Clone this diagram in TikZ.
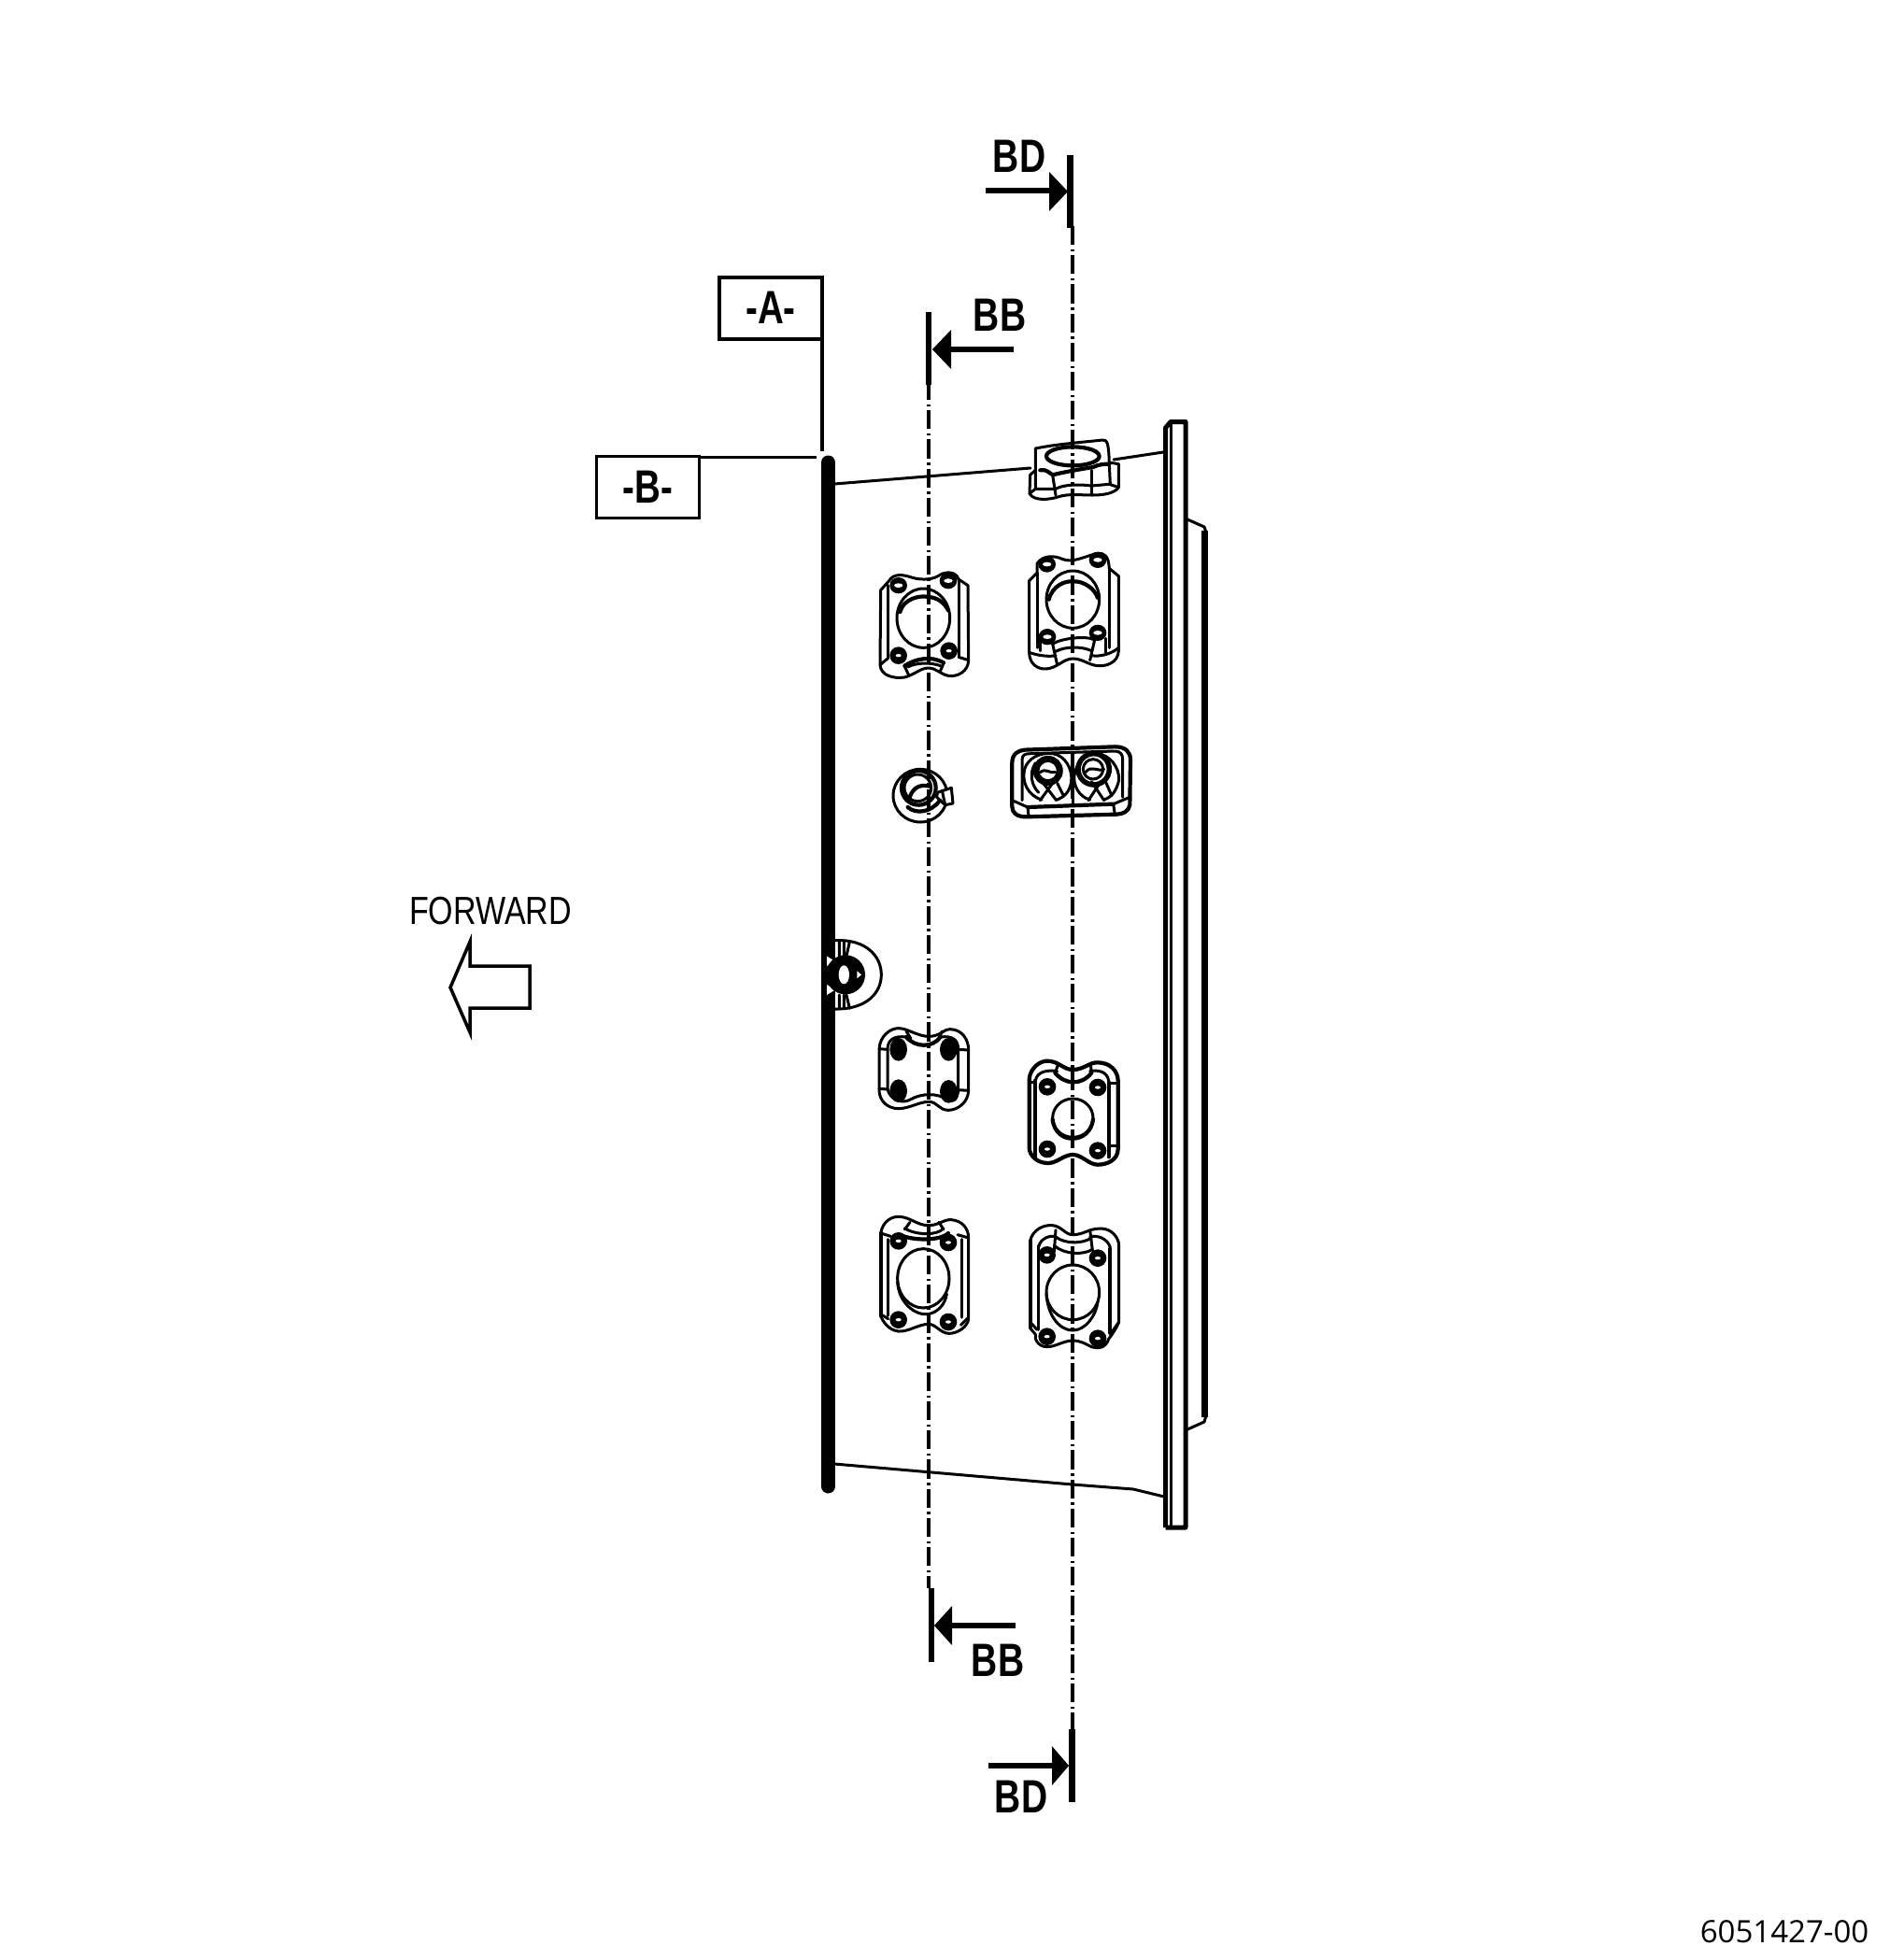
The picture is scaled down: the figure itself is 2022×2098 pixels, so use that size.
\documentclass[tikz,border=0pt]{standalone}
\usepackage{fontspec}
\setmainfont{Liberation Sans}
\newfontfamily\numfont{Open Sans}
\newcommand\boltf[2]{\fill (#1,#2) circle[radius=28]; \fill[white] (#1,#2) ellipse[x radius=9,y radius=5];}
\newcommand\boltr[2]{\fill (#1,#2) ellipse[x radius=28,y radius=26]; \fill[white] (#1,#2) ellipse[x radius=14,y radius=7];}
\newcommand\bolts[2]{\fill (#1,#2) ellipse[x radius=28,y radius=37];}
\tikzset{
  ln/.style={line width=3pt,line join=round,line cap=round},
  thk/.style={line width=4.2pt,line join=round,line cap=round},
  datum/.style={draw,line width=3.5pt,inner sep=0pt,outer sep=0pt,font=\fontsize{50}{50}\bfseries},
  seclab/.style={font=\fontsize{50}{50}\bfseries,inner sep=0pt},
  cl/.style={line width=3.2pt,dash pattern=on 20.2pt off 4.5pt on 2.5pt off 4pt},
  tickln/.style={line width=6.8pt},
  shaftln/.style={line width=6.5pt},
  zo/.style={shift={(900,440)},scale=0.33333,ln},
  zc/.style={shift={(860,980)},scale=0.33333,ln},
  zd/.style={shift={(930,1300)},scale=0.33333,ln}
}
\begin{document}
\begin{tikzpicture}[x=1pt,y=-1pt]
\useasboundingbox (0,0) rectangle (2022,2098);
\fill[white] (0,0) rectangle (2022,2098);

% centre lines
\coordinate (cl1t) at (994,408); \coordinate (cl1b) at (994,1700);
\coordinate (cl2t) at (1148,242); \coordinate (cl2b) at (1148,1851);
\draw[cl] (cl1t) -- (cl1b);
\draw[cl] (cl2t) -- (cl2b);

% section marks
\coordinate (t1a) at (1145.5,166); \coordinate (t1b) at (1145.5,244);
\draw[tickln] (t1a) -- (t1b);
\coordinate (s1a) at (1055,204); \coordinate (s1b) at (1125,204);
\draw[shaftln] (s1a) -- (s1b);
\fill (1143,205) -- (1123,184) -- (1123,226) -- cycle;
\node[seclab] (bdtop) at (1091,167) {\scalebox{.78}[1]{BD}};

\coordinate (t2a) at (994,334); \coordinate (t2b) at (994,412);
\draw[tickln] (t2a) -- (t2b);
\coordinate (s2a) at (1085,374); \coordinate (s2b) at (1016,374);
\draw[shaftln] (s2a) -- (s2b);
\fill (998,374) -- (1018,353) -- (1018,395) -- cycle;
\node[seclab] (bbtop) at (1070,337) {\scalebox{.78}[1]{BB}};

\coordinate (t3a) at (997,1700); \coordinate (t3b) at (997,1779);
\draw[tickln] (t3a) -- (t3b);
\coordinate (s3a) at (1087,1740); \coordinate (s3b) at (1017,1740);
\draw[shaftln] (s3a) -- (s3b);
\fill (1000,1740) -- (1019,1719) -- (1019,1761) -- cycle;
\node[seclab] (bbbot) at (1068,1777) {\scalebox{.78}[1]{BB}};

\coordinate (t4a) at (1147.5,1851); \coordinate (t4b) at (1147.5,1929);
\draw[tickln] (t4a) -- (t4b);
\coordinate (s4a) at (1058,1890); \coordinate (s4b) at (1128,1890);
\draw[shaftln] (s4a) -- (s4b);
\fill (1144,1890) -- (1126,1869) -- (1126,1911) -- cycle;
\node[seclab] (bdbot) at (1093,1923) {\scalebox{.78}[1]{BD}};

% datum boxes
\node[datum,minimum width=110pt,minimum height=66pt] (A) at (825,330) {\raisebox{2pt}{\scalebox{.77}[1]{-A-}}};
\node[datum,minimum width=110pt,minimum height=66pt] (B) at (693.5,521.5) {\raisebox{1pt}{\scalebox{.77}[1]{-B-}}};
\coordinate (Aend) at (880,483); \coordinate (Bend) at (874,489.5);
\coordinate (Astart) at (880,363); \coordinate (Bstart) at (748.5,489.5);
\draw[line width=3.4pt] (Astart) -- (Aend);
\draw[line width=3.4pt] (Bstart) -- (Bend);

% shell
\draw[line width=15pt,line cap=round] (886.5,495) -- (886.5,1591);
\draw[ln] (893,518) -- (1103,501);
\draw[ln] (1192,492) -- (1245,484);
\draw[ln] (893,1567) -- (1148,1589) -- (1213,1594) -- (1246,1602);

% flange
\draw[line width=5pt,line join=round] (1247.5,1635) -- (1247.5,458) -- (1253,451.5) -- (1269,451.5) -- (1269,1635) -- (1247.5,1635);
\draw[line width=3.5pt] (1253.5,452) -- (1253.5,1635);
\draw[ln] (1271,556) -- (1289,564) -- (1291,570);
\draw[ln] (1271,1530) -- (1289,1522) -- (1291,1515);
\draw[line width=7pt] (1289.5,568) -- (1289.5,1517);

% top nut
\begin{scope}[zo]
\draw (625,190) -- (625,120) .. controls (700,105) and (780,100) .. (840,93) .. controls (855,92) and (860,100) .. (862,170);
\draw[thk] (745,145) ellipse[x radius=85,y radius=30];
\draw (625,190) -- (608,205) -- (606,265) .. controls (620,290) and (670,285) .. (700,275) .. controls (730,265) and (770,270) .. (810,270) .. controls (850,270) and (880,262) .. (892,245) -- (892,170) -- (862,165);
\draw (625,190) -- (625,250) -- (606,265);
\draw (625,250) -- (690,250) .. controls (715,235) and (770,235) .. (805,240) -- (862,235) -- (892,245);
\draw (862,170) -- (865,235);
\draw[thk] (640,190) .. controls (660,185) and (670,200) .. (680,205) .. controls (720,195) and (780,185) .. (810,180) .. controls (830,170) and (850,170) .. (862,170);
\draw (680,205) -- (690,270);
\draw (805,190) -- (805,270);
\end{scope}

% fitting A
\begin{scope}[zo]
\draw (128,575) -- (155,545) .. controls (170,520) and (200,525) .. (230,535) .. controls (265,545) and (300,540) .. (320,525) .. controls (340,515) and (370,515) .. (378,540) -- (408,560) -- (410,800) .. controls (410,835) and (375,855) .. (345,850) .. controls (320,845) and (305,825) .. (283,825) .. controls (255,825) and (240,845) .. (205,855) .. controls (170,860) and (128,850) .. (126,815) -- cycle;
\draw (150,560) -- (150,795);
\draw (378,540) -- (378,790);
\draw (126,815) -- (150,795) (378,790) -- (410,800);
\boltr{185}{560}\boltr{345}{545}\boltf{185}{785}\boltf{347}{770}
\draw (265,665) ellipse[x radius=85,y radius=95];
\draw[thk] (190,645) .. controls (200,605) and (250,590) .. (283,597) .. controls (315,600) and (335,620) .. (345,640);
\draw[thk] (205,818) .. controls (240,795) and (290,785) .. (330,808);
\draw (205,820) -- (218,848) (330,810) -- (318,838);
\draw (215,822) .. controls (240,808) and (290,805) .. (325,820);
\end{scope}

% fitting B
\begin{scope}[zo]
\draw (605,545) -- (630,520) -- (630,490) .. controls (650,460) and (690,465) .. (710,475) .. controls (745,490) and (785,465) .. (825,457) .. controls (845,455) and (860,465) .. (862,505) -- (892,530) -- (892,770) .. controls (890,810) and (850,820) .. (825,818) .. controls (795,815) and (775,795) .. (745,795) .. controls (715,795) and (695,825) .. (660,828) .. controls (630,830) and (605,810) .. (605,775) -- cycle;
\draw (630,520) -- (630,760) (862,505) -- (862,760);
\boltr{662}{492}\boltr{825}{478}\boltr{663}{725}\boltr{825}{712}
\draw (745,605) ellipse[x radius=85,y radius=92];
\draw[thk] (668,605) .. controls (680,560) and (720,545) .. (745,547) .. controls (780,545) and (815,570) .. (825,600);
\draw (680,748) .. controls (705,730) and (790,720) .. (815,735);
\draw (690,772) .. controls (720,755) and (775,755) .. (805,770);
\draw (680,748) -- (695,815) (815,735) -- (800,800);
\draw (605,775) .. controls (630,785) and (670,790) .. (690,785);
\draw (892,760) .. controls (870,780) and (830,790) .. (805,785);
\draw (640,730) -- (640,770) (850,730) -- (850,775);
\end{scope}

% small boss
\begin{scope}[zo]
\draw (255,1235) ellipse[x radius=87,y radius=85];
\draw[thk] (250,1210) circle[radius=55];
\draw (247,1210) circle[radius=43];
\draw[thk] (218,1252) .. controls (225,1215) and (250,1195) .. (285,1205);
\draw[fill=white] (310,1225) -- (355,1210) -- (360,1260) -- (335,1265) -- (308,1240) -- cycle;
\draw (325,1218) -- (335,1265);
\draw[thk] (215,1272) .. controls (240,1295) and (290,1290) .. (318,1250);
\end{scope}

% double fitting
\begin{scope}[zo]
\draw[thk] (550,1130) .. controls (550,1100) and (570,1090) .. (590,1088) -- (880,1078) .. controls (915,1078) and (930,1095) .. (930,1120) -- (928,1265) .. controls (925,1285) and (905,1295) .. (885,1295) -- (595,1303) .. controls (565,1303) and (550,1290) .. (550,1270) -- cycle;
\draw (582,1250) -- (582,1120) .. controls (582,1105) and (590,1100) .. (610,1100) -- (880,1092) .. controls (900,1092) and (905,1105) .. (905,1120) -- (905,1240);
\draw (550,1250) -- (600,1272) (875,1262) -- (928,1240);
\draw[thk] (600,1272) -- (875,1262);
\draw (600,1272) -- (603,1300) (875,1262) -- (880,1295);
\draw (645,1248) .. controls (600,1235) and (580,1190) .. (590,1150) .. controls (600,1115) and (640,1095) .. (680,1100) .. controls (720,1105) and (745,1150) .. (740,1190) .. controls (735,1225) and (715,1240) .. (695,1248);
\draw (635,1225) .. controls (610,1200) and (605,1160) .. (625,1130);
\draw[thk] (665,1155) circle[radius=42];
\draw (665,1155) circle[radius=32];
\draw (640,1160) .. controls (660,1145) and (670,1165) .. (690,1160);
\draw (680,1195) -- (640,1250) (650,1195) -- (692,1250) (695,1195) -- (715,1235);
\draw (800,1248) .. controls (765,1240) and (745,1200) .. (750,1170) .. controls (755,1125) and (790,1100) .. (825,1100) .. controls (865,1105) and (895,1145) .. (893,1185) .. controls (885,1220) and (870,1240) .. (845,1248);
\draw[line width=5.5pt] (812,1150) circle[radius=50];
\draw (810,1150) circle[radius=32];
\draw (785,1160) .. controls (805,1135) and (825,1160) .. (845,1150);
\draw (835,1190) -- (795,1250) (805,1190) -- (845,1250) (850,1190) -- (870,1235);
\draw (745,1095) -- (745,1258);
\end{scope}

% knob
\begin{scope}[zc]
\fill[white] (75,130) -- (102,148) -- (75,162) -- cycle;
\fill[white] (75,222) -- (102,238) -- (75,255) -- cycle;
\draw (102,80) .. controls (200,75) and (250,130) .. (250,190) .. controls (250,250) and (200,302) .. (102,300);
\fill (135,190) ellipse[x radius=63,y radius=63];
\fill[white] (130,190) ellipse[x radius=17,y radius=30];
\fill[white] (172,178) -- (186,190) -- (172,202) -- cycle;
\draw (115,85) -- (115,130) (130,85) -- (130,130) (148,85) -- (138,130);
\draw (115,255) -- (115,298) (130,255) -- (130,298) (138,255) -- (148,298);
\end{scope}

% fitting C
\begin{scope}[zc]
\draw (243,430) .. controls (245,385) and (280,362) .. (305,362) .. controls (335,362) and (365,388) .. (403,388) .. controls (440,388) and (455,362) .. (470,365) .. controls (510,365) and (530,400) .. (530,430) -- (530,560) .. controls (530,600) and (495,625) .. (465,625) .. controls (435,625) and (430,598) .. (403,598) .. controls (370,598) and (340,620) .. (305,620) .. controls (270,620) and (243,595) .. (243,560) -- cycle;
\draw (243,428) -- (270,430) -- (270,558) -- (243,556);
\draw (530,432) -- (497,430) -- (497,560) -- (530,562);
\draw (270,430) .. controls (270,400) and (290,385) .. (330,390);
\draw (497,430) .. controls (497,400) and (480,385) .. (440,390);
\draw[thk] (330,390) .. controls (360,425) and (415,425) .. (440,390);
\draw (330,372) -- (345,395) (445,372) -- (435,395);
\draw (270,558) .. controls (280,595) and (320,605) .. (345,590) .. controls (380,570) and (430,570) .. (460,590) .. controls (480,605) and (495,590) .. (497,560);
\bolts{305}{430}\bolts{466}{430}\bolts{305}{563}\bolts{466}{565}
\end{scope}

% fitting D
\begin{scope}[zc]
\draw[thk] (725,525) .. controls (728,490) and (760,465) .. (785,467) .. controls (820,468) and (835,495) .. (865,495) .. controls (900,495) and (920,470) .. (945,472) .. controls (985,472) and (1010,500) .. (1010,530) -- (1010,750) .. controls (1010,785) and (975,800) .. (945,800) .. controls (915,800) and (895,768) .. (865,768) .. controls (835,768) and (815,795) .. (785,795) .. controls (750,795) and (725,770) .. (725,745) -- cycle;
\draw[thk] (745,530) -- (745,775);
\draw[thk] (980,535) -- (980,775);
\draw (725,535) -- (745,535) (985,538) -- (1010,538);
\draw (745,530) .. controls (750,500) and (785,495) .. (815,500);
\draw (980,530) .. controls (975,500) and (945,495) .. (920,500);
\draw[thk] (808,505) .. controls (840,545) and (895,545) .. (925,505);
\draw (818,478) -- (808,505) (922,478) -- (925,505);
\draw (985,740) -- (1010,740);
\draw (865,650) ellipse[x radius=65,y radius=62];
\draw[thk] (800,655) .. controls (805,700) and (840,718) .. (865,716) .. controls (895,716) and (925,695) .. (930,655);
\boltf{783}{550}\boltf{945}{552}\boltf{783}{750}\boltf{945}{755}
\end{scope}

% fitting E
\begin{scope}[zd]
\draw (38,60) .. controls (45,20) and (75,5) .. (100,7) .. controls (135,10) and (155,35) .. (192,35) .. controls (225,35) and (240,15) .. (265,17) .. controls (300,20) and (320,45) .. (320,75) -- (320,335) .. controls (318,360) and (285,382) .. (258,382) .. controls (230,382) and (215,352) .. (192,352) .. controls (160,352) and (125,378) .. (95,375) .. controls (65,372) and (45,345) .. (38,325) -- cycle;
\draw[thk] (38,60) -- (38,325);
\draw (60,80) -- (60,325) (298,80) -- (298,330);
\draw (38,60) -- (70,70) (320,75) -- (285,65);
\draw (38,320) -- (62,335) (320,330) -- (295,355);
\draw (115,45) .. controls (150,65) and (215,70) .. (240,45);
\draw[thk] (100,65) .. controls (140,85) and (230,85) .. (255,60);
\draw (115,48) -- (132,25) (225,25) -- (240,48);
\boltf{95}{85}\boltf{255}{90}\boltf{95}{338}\boltf{255}{345}
\draw (175,205) ellipse[x radius=83,y radius=95];
\draw (92,215) .. controls (95,285) and (150,325) .. (190,320) .. controls (220,315) and (245,290) .. (250,255);
\end{scope}

% fitting F
\begin{scope}[zd]
\draw (518,85) .. controls (525,50) and (560,32) .. (590,35) .. controls (620,38) and (630,65) .. (655,65) .. controls (690,65) and (705,45) .. (745,45) .. controls (780,45) and (803,75) .. (803,100) -- (803,345) .. controls (795,365) and (785,380) .. (770,400) .. controls (760,430) and (735,432) .. (715,425) .. controls (695,415) and (680,405) .. (655,405) .. controls (625,405) and (600,425) .. (572,425) .. controls (545,425) and (530,400) .. (535,385) -- (518,365) -- cycle;
\draw[thk] (518,85) -- (518,360);
\draw (545,100) -- (545,370);
\draw[thk] (775,110) -- (775,380);
\draw (803,345) -- (775,385) (518,345) -- (540,370);
\draw (545,105) .. controls (550,75) and (585,65) .. (600,72);
\draw (775,105) .. controls (765,75) and (730,65) .. (710,72);
\draw (600,50) -- (595,120) (710,50) -- (718,115);
\draw (600,72) .. controls (630,95) and (685,95) .. (715,75);
\draw (595,100) .. controls (630,130) and (690,130) .. (718,112);
\boltf{572}{130}\boltf{735}{140}\boltf{572}{392}\boltf{735}{398}
\draw (655,250) ellipse[x radius=85,y radius=88];
\draw (570,255) .. controls (575,330) and (615,372) .. (655,372) .. controls (695,372) and (730,325) .. (735,280);
\end{scope}

% forward arrow
\node[font=\fontsize{42}{42}\selectfont,inner sep=0pt] (fwd) at (525,975) {\scalebox{.81}[1]{FORWARD}};
\draw[line width=3.5pt,line join=miter] (482,1057) -- (503,1008) -- (503,1034) -- (567,1034) -- (567,1079) -- (503,1079) -- (503,1105) -- cycle;

\node[font=\fontsize{33}{33}\numfont,inner sep=0pt] (num) at (1910,2068) {6051427-00};
\end{tikzpicture}
\end{document}
